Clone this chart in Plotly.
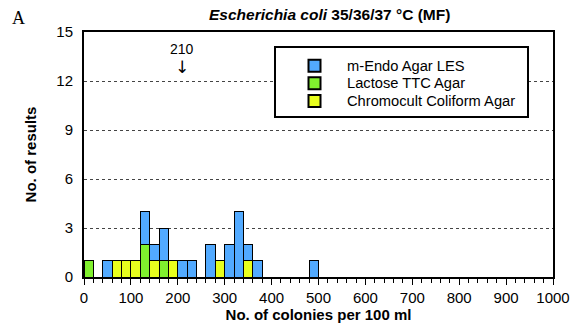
import plotly.graph_objects as go

bin_centers = [10, 30, 50, 70, 90, 110, 130, 150, 170, 190, 210, 230, 250, 270, 290, 310, 330, 350, 370, 390, 410, 430, 450, 470, 490]
m_endo      = [0, 0, 1, 0, 0, 0, 2, 1, 2, 0, 1, 1, 0, 2, 0, 2, 4, 1, 1, 0, 0, 0, 0, 0, 1]
lactose_ttc = [1, 0, 0, 0, 0, 0, 2, 0, 1, 0, 0, 0, 0, 0, 0, 0, 0, 0, 0, 0, 0, 0, 0, 0, 0]
chromocult  = [0, 0, 0, 1, 1, 1, 0, 1, 0, 1, 0, 0, 0, 0, 1, 0, 0, 1, 0, 0, 0, 0, 0, 0, 0]
series_names = ["m-Endo Agar LES", "Lactose TTC Agar", "Chromocult Coliform Agar"]
series_colors = ["#52AAFF", "#80F02E", "#E8FF1E"]

y_ticks = [0, 3, 6, 9, 12, 15]
x_ticks = [0, 100, 200, 300, 400, 500, 600, 700, 800, 900, 1000]
outlier_value = 210

L, R, T, B = 84, 25, 32, 47
PW, PH = 578 - L - R, 324 - T - B

def px(xp):
    return (xp - L) / PW

def py(yp):
    return (324 - B - yp) / PH

series_vals = [m_endo, lactose_ttc, chromocult]

fig = go.Figure()
# bottom-most first: Chromocult, Lactose, then m-Endo on top
for idx in [2, 1, 0]:
    fig.add_trace(go.Bar(
        x=bin_centers, y=series_vals[idx], width=20, name=series_names[idx],
        marker=dict(color=series_colors[idx], line=dict(color="black", width=1)),
        showlegend=False,
    ))

shapes = [
    dict(type="rect", xref="paper", yref="paper",
         x0=px(275), x1=px(528), y0=py(117), y1=py(47),
         line=dict(color="black", width=2), fillcolor="white", layer="above"),
]
annotations = [
    dict(text="<b><i>Escherichia coli</i> 35/36/37 °C (MF)</b>", x=px(329), y=py(14),
         xref="paper", yref="paper", xanchor="center", yanchor="middle",
         showarrow=False, font=dict(size=15.5)),
    dict(text="A", x=px(18), y=py(18), xref="paper", yref="paper", showarrow=False,
         xanchor="center", yanchor="middle",
         font=dict(family="Liberation Serif, Times New Roman, serif", size=18)),
    dict(text=str(outlier_value), x=outlier_value, y=13.95, xref="x", yref="y",
         showarrow=False, font=dict(size=14)),
    dict(text="↓", x=outlier_value, y=12.85, xref="x", yref="y",
         showarrow=False, font=dict(size=17, family="DejaVu Sans")),
]
row_y = [65.7, 83.3, 101]
for name, col, yc in zip(series_names, series_colors, row_y):
    shapes.append(dict(type="rect", xref="paper", yref="paper",
                       x0=px(308.5), x1=px(320.5), y0=py(yc + 6), y1=py(yc - 6),
                       line=dict(color="black", width=2), fillcolor=col, layer="above"))
    annotations.append(dict(text=name, x=px(345), y=py(yc), xref="paper", yref="paper",
                            xanchor="left", yanchor="middle", showarrow=False,
                            font=dict(size=14.7)))

fig.update_layout(
    barmode="stack",
    width=578, height=324,
    margin=dict(l=L, r=R, t=T, b=B, autoexpand=False),
    plot_bgcolor="white", paper_bgcolor="white",
    font=dict(family="Liberation Sans, Arial, sans-serif", color="black", size=13),
    showlegend=False,
    xaxis=dict(
        range=[0, 1000], tickvals=x_ticks, ticks="outside", ticklen=6, tickwidth=1,
        tickcolor="black", automargin=False,
        minor=dict(dtick=20, ticks="outside", ticklen=4, tickcolor="black", tickwidth=1),
        showline=True, linecolor="black", linewidth=2, mirror=True,
        showgrid=False, zeroline=False,
        title=dict(text="<b>No. of colonies per 100 ml</b>", font=dict(size=15), standoff=0),
        tickfont=dict(size=15),
    ),
    yaxis=dict(
        range=[0, 15], tickvals=y_ticks, ticks="", automargin=False,
        showline=True, linecolor="black", linewidth=2, mirror=True,
        showgrid=True, gridcolor="#444444", griddash="3px,3px", gridwidth=1,
        zeroline=False, ticklabelstandoff=6,
        title=dict(text="<b>No. of results</b>", font=dict(size=15), standoff=16),
        tickfont=dict(size=15),
    ),
    shapes=shapes,
    annotations=annotations,
)

fig.write_html("out.html", config={"displayModeBar": False},
               post_script="document.body.style.margin='0';")
